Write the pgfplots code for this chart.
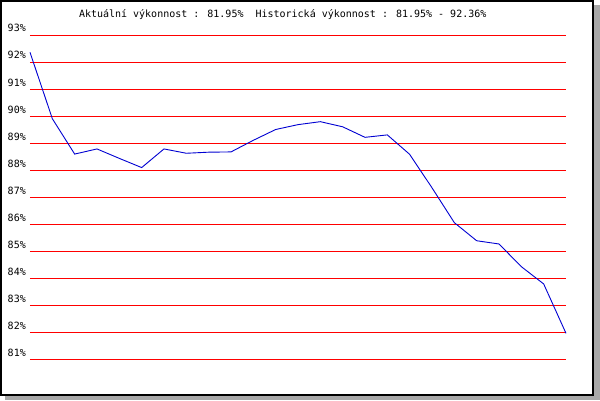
\documentclass[border=0pt]{standalone}
\usepackage{pgfplots}
\pgfplotsset{compat=1.18}
\usepackage{fontspec}
\setmainfont{DejaVu Sans Mono}
\newfontfamily\monof{DejaVu Sans Mono}
\definecolor{shadowgray}{RGB}{168,168,168}
\definecolor{lineblue}{RGB}{0,0,210}
\definecolor{gridred}{RGB}{255,0,0}
\begin{document}
\begin{tikzpicture}[x=1bp,y=1bp]
\useasboundingbox (-30,-41) rectangle (570,359);
\fill[shadowgray] (-25,-41) rectangle (570,354);
\filldraw[fill=white,draw=black,line width=2.2bp] (-28.9,-35.9) rectangle (562.9,357.9);
\node[font=\monof\fontsize{10bp}{12bp}\selectfont,anchor=base] at (252.7,341.7) {Aktuální výkonnost : 81.95\%\ \ Historická výkonnost : 81.95\% - 92.36\%};
\begin{axis}[
  at={(0,0)}, anchor=origin,
  scale only axis,
  width=536bp, height=324bp,
  xmin=0, xmax=24, ymin=81, ymax=93,
  axis line style={draw=none},
  xtick=\empty,
  ytick={81,82,...,93},
  tick style={draw=none},
  ymajorgrids,
  major grid style={gridred, line width=0.9bp},
  yticklabel={\pgfmathprintnumber{\tick}\%},
  yticklabel style={font=\monof\fontsize{10bp}{12bp}\selectfont, anchor=base east, inner sep=0pt, xshift=-4bp, yshift=3bp},
  /pgf/number format/assume math mode=true,
  clip=false,
]
\addplot[lineblue, line width=0.9bp, mark=none] coordinates {
(0,92.36) (1,89.90) (2,88.59) (3,88.78) (4,88.43) (5,88.09) (6,88.78) (7,88.62)
(8,88.66) (9,88.67) (10,89.10) (11,89.50) (12,89.68) (13,89.79) (14,89.60)
(15,89.21) (16,89.30) (17,88.58) (18,87.34) (19,86.05) (20,85.38) (21,85.26)
(22,84.42) (23,83.78) (24,81.95)
};
\end{axis}
\end{tikzpicture}
\end{document}
